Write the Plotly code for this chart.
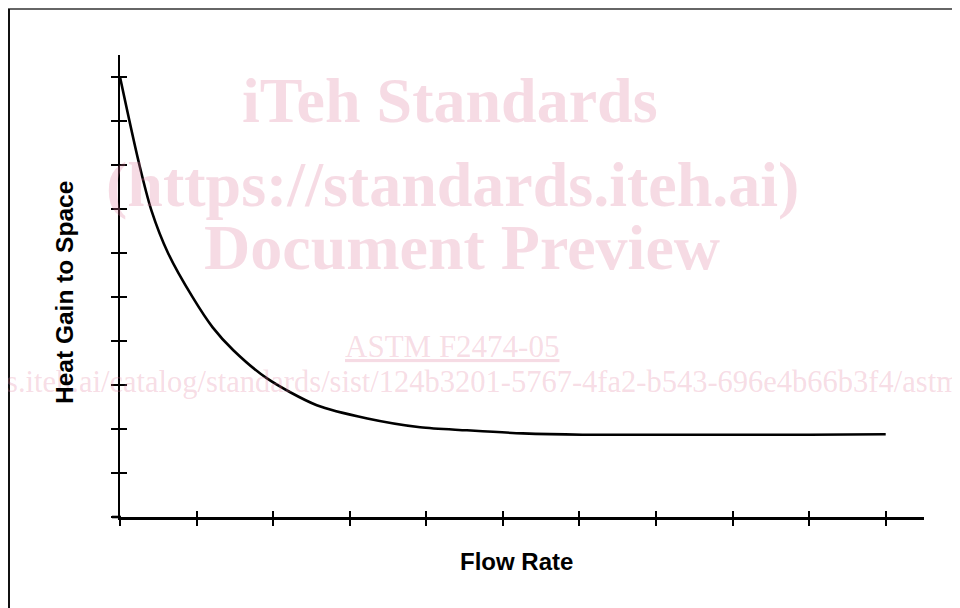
import plotly.graph_objects as go

# Data
flow_rate = [0, 0.24, 0.41, 0.63, 0.95, 1.21, 1.48, 1.92, 2.57, 3.23, 3.92, 4.53, 5.26, 6.04, 7.0, 8.0, 9.0, 10.0]
heat_gain = [10.0, 8.10, 6.97, 5.99, 4.99, 4.31, 3.79, 3.15, 2.54, 2.24, 2.04, 1.97, 1.90, 1.87, 1.87, 1.87, 1.87, 1.88]

x_title = "Flow Rate"
y_title = "Heat Gain to Space"

wm_lines = ["iTeh Standards", "(https://standards.iteh.ai)", "Document Preview"]
wm_astm = "ASTM F2474-05"
wm_url = "https://standards.iteh.ai/catalog/standards/sist/124b3201-5767-4fa2-b543-696e4b66b3f4/astm-f2474-05"

# The page puts the figure 8px from the top-left corner of the window
OFF = 8
W, H = 952, 600
L, R, T, B = 112, 36, 47, 91
pw, ph = W - L - R, H - T - B


def px(xp):
    """window x pixel -> paper x"""
    return (xp - OFF - L) / pw


def py(yp):
    """window y pixel -> paper y"""
    return (H - B - (yp - OFF)) / ph


fig = go.Figure()
fig.add_trace(go.Scatter(x=flow_rate, y=heat_gain, mode="lines",
                         line=dict(color="black", width=2.6, shape="spline", smoothing=0.8),
                         hoverinfo="skip", showlegend=False))

axis_common = dict(showgrid=False, zeroline=False, showticklabels=False,
                   dtick=1, tick0=0, tickcolor="black", tickwidth=1.6)

fig.update_layout(
    width=W, height=H,
    margin=dict(l=L, r=R, t=T, b=B, pad=0),
    paper_bgcolor="white", plot_bgcolor="white",
    showlegend=False,
    xaxis=dict(range=[0, 10.5], showline=True, linecolor="black", linewidth=2.6,
               ticks="outside", ticklen=6, **axis_common),
    yaxis=dict(range=[0, 10.5], showline=True, linecolor="black", linewidth=2.2,
               ticks="outside", ticklen=7, **axis_common),
    xaxis2=dict(range=[0, 10.5], overlaying="x", anchor="y", side="bottom",
                showline=False, ticks="inside", ticklen=6, **axis_common),
    yaxis2=dict(range=[0, 10.5], overlaying="y", anchor="x", side="left",
                showline=False, ticks="inside", ticklen=7, **axis_common),
)
# invisible trace so the overlay axes are drawn
fig.add_trace(go.Scatter(x=[None], y=[None], xaxis="x2", yaxis="y2",
                         showlegend=False, hoverinfo="skip"))

pink = "rgba(223,123,155,0.27)"
serif = "Liberation Serif, Times New Roman, serif"
sans = "Liberation Sans, Arial, sans-serif"
annotations = [
    dict(text="<b>%s</b>" % wm_lines[0], x=px(450), y=py(101), font=dict(size=64, color=pink, family=serif)),
    dict(text="<b>%s</b>" % wm_lines[1], x=px(452), y=py(184), font=dict(size=64, color=pink, family=serif)),
    dict(text="<b>%s</b>" % wm_lines[2], x=px(462), y=py(247), font=dict(size=64, color=pink, family=serif)),
    dict(text="<u>%s</u>" % wm_astm, x=px(452), y=py(346), font=dict(size=31, color=pink, family=serif)),
    dict(text=wm_url, x=px(450), y=py(382), font=dict(size=30.5, color=pink, family=serif)),
    dict(text="<b>%s</b>" % y_title, x=px(64), y=py(293), textangle=-90,
         font=dict(size=24.5, color="black", family=sans)),
    dict(text="<b>%s</b>" % x_title, x=px(516), y=py(561),
         font=dict(size=24, color="black", family=sans)),
]
for a in annotations:
    a.update(xref="paper", yref="paper", showarrow=False, xanchor="center", yanchor="middle")
fig.update_layout(annotations=annotations)

# page border (top and left visible) and x-axis stub left of the y axis
fig.add_shape(type="line", xref="paper", yref="paper",
              x0=px(8), x1=px(975), y0=py(9), y1=py(9), line=dict(color="#666666", width=2))
fig.add_shape(type="line", xref="paper", yref="paper",
              x0=px(9), x1=px(9), y0=py(9), y1=py(620), line=dict(color="#111111", width=2))
fig.add_shape(type="line", xref="paper", yref="paper",
              x0=px(112), x1=px(121), y0=0, y1=0, line=dict(color="black", width=2.6))

fig.write_html("out.html")
